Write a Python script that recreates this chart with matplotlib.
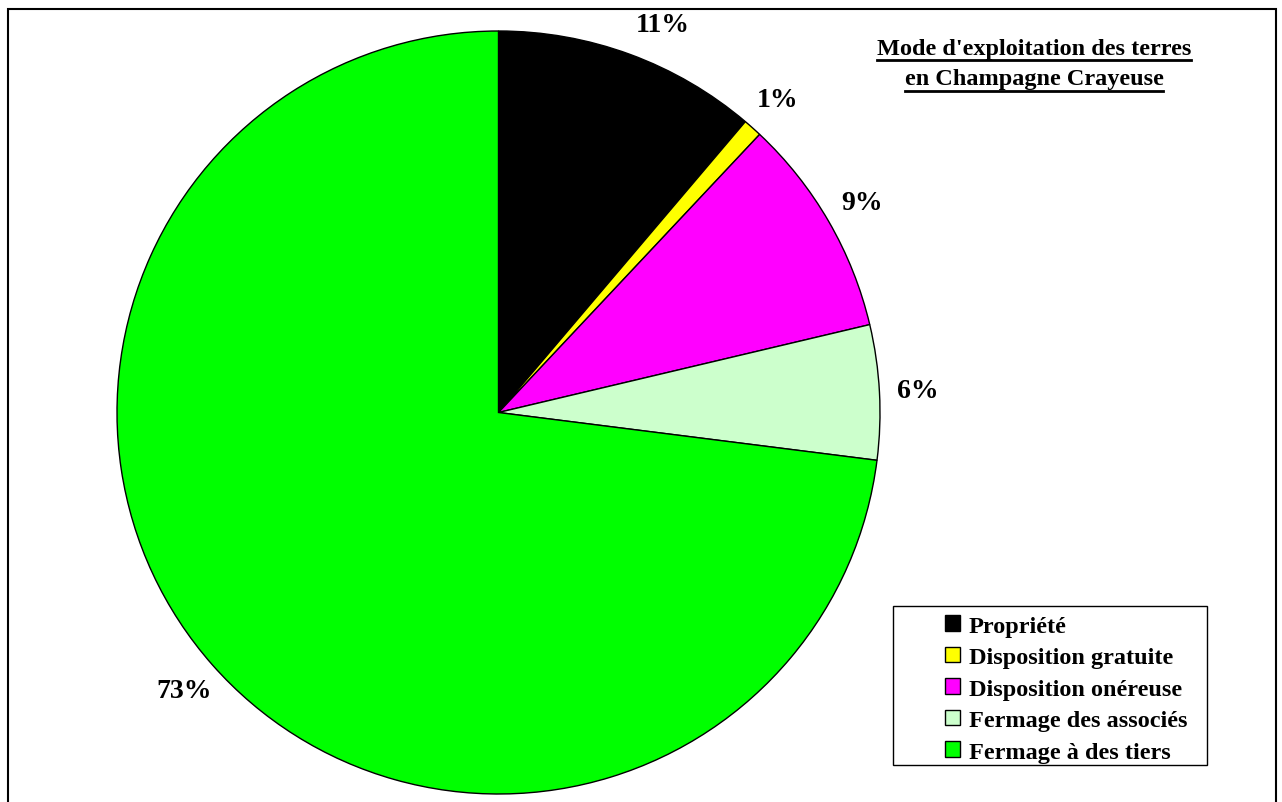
import matplotlib
matplotlib.use('Agg')
import matplotlib.pyplot as plt
from matplotlib.patches import Rectangle, Patch
from matplotlib.lines import Line2D

# parts des modes d'exploitation (%)
categories = ['Propriété', 'Disposition gratuite', 'Disposition onéreuse',
              'Fermage des associés', 'Fermage à des tiers']
parts = [11.2, 0.8, 9.3, 5.7, 73.0]
colors = ['#000000', '#FFFF00', '#FF00FF', '#CCFFCC', '#00FF00']
title_lines = ["Mode d'exploitation des terres", "en Champagne Crayeuse"]

plt.rcParams['font.family'] = ['Liberation Serif', 'DejaVu Serif']
plt.rcParams['font.weight'] = 'bold'

W, H = 1282, 803
fig = plt.figure(figsize=(W / 100, H / 100), dpi=100)
ax = fig.add_axes([0, 0, 1, 1])
ax.set_xlim(0, W)
ax.set_ylim(0, H)

wedges, texts, autotexts = ax.pie(
    parts, colors=colors, startangle=90, counterclock=False,
    center=(498.5, H - 413.5), radius=381.5, frame=True,
    autopct='%.0f%%', pctdistance=1.1,
    wedgeprops=dict(edgecolor='black', linewidth=1.0))
for t in autotexts:
    t.set_fontsize(20)
    t.set_fontweight('bold')
    t.set_color('black')
# Excel décale un peu l'étiquette du haut
x0, y0 = autotexts[0].get_position()
autotexts[0].set_position((x0 + 20, y0 - 6))
ax.set_xlim(0, W)
ax.set_ylim(0, H)
ax.set_aspect('equal')
ax.axis('off')

# cadre du graphique
fig.patches.append(Rectangle((8 / W, -0.1), (1276 - 8) / W, (H - 10) / H + 0.1,
                             transform=fig.transFigure, fill=False,
                             edgecolor='black', linewidth=1.5))

# titre souligné
title_texts = []
for i, line in enumerate(title_lines):
    t = fig.text(1034 / W, 1 - (49 + 31 * i) / H, line, ha='center', va='center',
                 fontsize=17.5, fontweight='bold')
    title_texts.append(t)

# légende
fig.patches.append(Rectangle((893 / W, 1 - 766 / H), (1207 - 893) / W, (766 - 607) / H,
                             transform=fig.transFigure, fill=False,
                             edgecolor='black', linewidth=1.0))
handles = [Patch(facecolor=c, edgecolor='black', linewidth=1.0) for c in colors]
fig.legend(handles, categories, loc='upper left',
           bbox_to_anchor=(926 / W, 1 - 597 / H), frameon=False,
           prop=dict(size=17.5, weight='bold'), handlelength=0.6, handleheight=0.6,
           handletextpad=0.35, labelspacing=0.42, borderpad=0.3)

fig.canvas.draw()
renderer = fig.canvas.get_renderer()
for t in title_texts:
    bb = t.get_window_extent(renderer)
    y = bb.y0 - 1
    fig.lines.append(Line2D([bb.x0 / W, bb.x1 / W], [y / H, y / H],
                            transform=fig.transFigure, color='black', linewidth=2))

fig.savefig('out.png', dpi=100)
